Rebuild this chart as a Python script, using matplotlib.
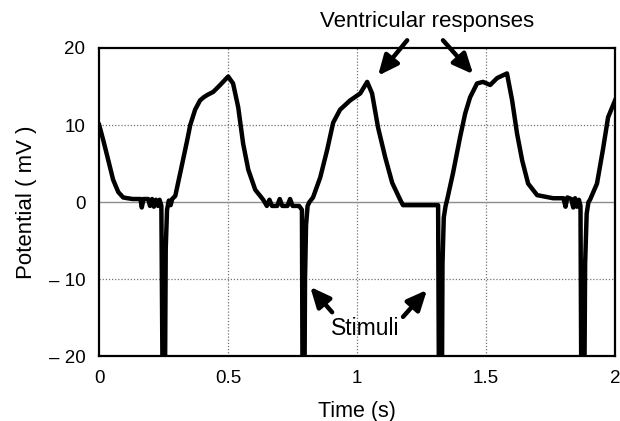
import matplotlib.pyplot as plt

plt.rcParams['font.family'] = ['Liberation Sans', 'DejaVu Sans']

# trace (time in s, potential in mV)
t = [0.000, 0.016, 0.031, 0.054, 0.074, 0.093, 0.110, 0.130, 0.160, 0.165, 0.172,
     0.190, 0.197, 0.205, 0.212, 0.220, 0.228, 0.234, 0.241, 0.247, 0.254, 0.258,
     0.263, 0.270, 0.277, 0.283, 0.295, 0.322, 0.341, 0.353, 0.372, 0.391, 0.405,
     0.419, 0.442, 0.469, 0.500, 0.519, 0.539, 0.558, 0.578, 0.605, 0.636, 0.650,
     0.660, 0.670, 0.690, 0.700, 0.710, 0.730, 0.740, 0.750, 0.775, 0.786, 0.789,
     0.795, 0.798, 0.802, 0.808, 0.815, 0.829, 0.857, 0.884, 0.907, 0.934, 0.973,
     1.012, 1.039, 1.058, 1.081, 1.109, 1.136, 1.167, 1.178, 1.314, 1.318, 1.328,
     1.331, 1.336, 1.343, 1.349, 1.372, 1.399, 1.419, 1.438, 1.465, 1.488, 1.516,
     1.543, 1.581, 1.601, 1.620, 1.640, 1.663, 1.698, 1.760, 1.800, 1.808, 1.815,
     1.830, 1.838, 1.845, 1.852, 1.860, 1.866, 1.870, 1.880, 1.884, 1.890, 1.897,
     1.903, 1.930, 1.953, 1.973, 2.000]
v = [10.0, 8.0, 6.0, 2.9, 1.3, 0.6, 0.5, 0.4, 0.4, -0.7, 0.4,
     0.4, -0.5, 0.4, -0.6, 0.3, -0.5, 0.3, -0.5, -30, -30, -6,
     -1.0, 0.2, -0.4, 0.4, 0.8, 5.0, 8.0, 10.0, 12.0, 13.2, 13.6,
     13.9, 14.3, 15.2, 16.3, 15.4, 12.3, 7.6, 4.2, 1.6, 0.3, -0.5,
     0.3, -0.5, -0.5, 0.4, -0.5, -0.5, 0.4, -0.5, -0.5, -1.0, -30,
     -30, -10, -3.0, -0.5, 0.0, 0.6, 3.2, 6.8, 10.3, 12.0, 13.2,
     14.1, 15.6, 14.1, 9.7, 5.8, 2.5, 0.3, -0.4, -0.4, -30, -30,
     -8, -2.0, -0.5, 0.3, 3.8, 8.4, 11.5, 13.6, 15.4, 15.6, 15.2,
     16.1, 16.7, 13.2, 8.9, 5.4, 2.4, 0.9, 0.5, 0.5, -0.6, 0.6,
     0.4, -0.7, 0.5, -0.6, 0.3, -0.5, -30, -30, -8, -1.5, 0.0,
     0.3, 2.4, 6.8, 11.0, 13.2]

xticks = [0, 0.5, 1, 1.5, 2]
xlabels = ['0', '0.5', '1', '1.5', '2']
yticks = [-20, -10, 0, 10, 20]
ylabels = ['\u2013 20', '\u2013 10', '0', '10', '20']

fig = plt.figure(figsize=(6.2, 4.21), dpi=100)
ax = fig.add_axes([0.160, 0.154, 0.832, 0.732])

for x in [0.5, 1, 1.5]:
    ax.axvline(x, color='0.45', lw=0.9, ls=(0, (1, 1.5)), zorder=1)
for y in [10, -10]:
    ax.axhline(y, color='0.45', lw=0.9, ls=(0, (1, 1.5)), zorder=1)
ax.axhline(0, color='0.55', lw=1.0, zorder=1)

ax.plot(t, v, color='black', lw=3.2, solid_joinstyle='round', zorder=3)

ax.set_xlim(0, 2)
ax.set_ylim(-20, 20)
ax.set_xticks(xticks)
ax.set_xticklabels(xlabels)
ax.set_yticks(yticks)
ax.set_yticklabels(ylabels)
ax.tick_params(length=0, labelsize=13.5, pad=10)
for s in ax.spines.values():
    s.set_linewidth(1.6)

ax.set_xlabel('Time (s)', fontsize=15.5, labelpad=10)
ax.set_ylabel('Potential ( mV )', fontsize=16, labelpad=8)

arrow = dict(arrowstyle='-|>,head_width=0.45,head_length=1.0', color='black', lw=3.2,
             mutation_scale=12, shrinkA=0, shrinkB=0)
ax.text(1.27, 23.4, 'Ventricular responses', fontsize=16, ha='center', va='center', clip_on=False)
ax.annotate('', xy=(1.081, 16.4), xytext=(1.194, 21.0), arrowprops=arrow, annotation_clip=False)
ax.annotate('', xy=(1.45, 16.6), xytext=(1.333, 21.0), arrowprops=arrow, annotation_clip=False)

ax.text(1.031, -16.4, 'Stimuli', fontsize=16.5, ha='center', va='center')
ax.annotate('', xy=(0.818, -11.0), xytext=(0.903, -14.3), arrowprops=arrow)
ax.annotate('', xy=(1.271, -11.4), xytext=(1.178, -14.9), arrowprops=arrow)

fig.savefig('out.png', dpi=100)
